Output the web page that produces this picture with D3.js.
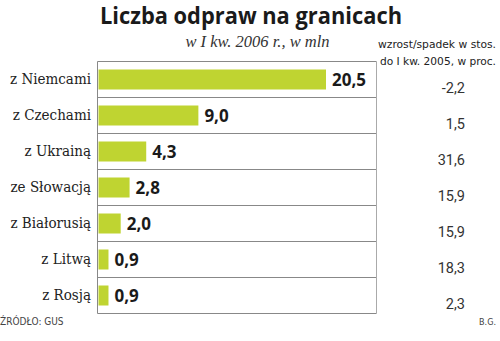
<!DOCTYPE html>
<html><head><meta charset="utf-8">
<script src="https://cdn.jsdelivr.net/npm/d3@7"></script>
<style>body{margin:0;background:#fff}svg{display:block}</style>
</head><body>
<svg id="c" width="500" height="341"></svg>
<script>
const categories = ["z Niemcami","z Czechami","z Ukrainą","ze Słowacją","z Białorusią","z Litwą","z Rosją"];
const values = [20.5, 9.0, 4.3, 2.8, 2.0, 0.9, 0.9];
const changes = ["-2,2","1,5","31,6","15,9","15,9","18,3","2,3"];
const valueLabels = ["20,5","9,0","4,3","2,8","2,0","0,9","0,9"];

(function(){
const svg = d3.select("#c");
const boxL = 97.5, boxR = 376.5, boxT = 61, boxB = 313;
const x = d3.scaleLinear().domain([0, 20.5]).range([boxL + 1, 326]);
const y = d3.scaleBand().domain(categories).range([boxT, boxB]).paddingInner(0).paddingOuter(0);

// title
svg.append("text").attr("x", 100).attr("y", 23.5)
  .attr("font-family", "Open Sans").attr("font-weight", 700).attr("font-size", 22.5)
  .attr("textLength", 302).attr("lengthAdjust", "spacingAndGlyphs")
  .attr("fill", "#1a1a1a").text("Liczba odpraw na granicach");
svg.append("text").attr("x", 257.5).attr("y", 47).attr("text-anchor", "middle")
  .attr("font-family", "Liberation Serif").attr("font-style", "italic").attr("font-size", 16.5)
  .attr("fill", "#333").text("w I kw. 2006 r., w mln");

// right header
svg.append("text").attr("x", 378).attr("y", 48)
  .attr("font-family", "DejaVu Sans Condensed").attr("font-size", 11)
  .attr("textLength", 118).attr("lengthAdjust", "spacingAndGlyphs")
  .attr("fill", "#222").text("wzrost/spadek w stos.");
svg.append("text").attr("x", 380).attr("y", 65)
  .attr("font-family", "DejaVu Sans Condensed").attr("font-size", 11)
  .attr("textLength", 116).attr("lengthAdjust", "spacingAndGlyphs")
  .attr("fill", "#222").text("do I kw. 2005, w proc.");

// box & row lines
const g = svg.append("g");
const lines = [boxT].concat(categories.map(c => y(c) + y.bandwidth()));
g.selectAll("line.row").data(lines).join("line").attr("class","row")
  .attr("x1", boxL).attr("x2", boxR).attr("y1", d => Math.round(d) + 0.5).attr("y2", d => Math.round(d) + 0.5)
  .attr("stroke", "#888").attr("stroke-width", 1);
g.append("line").attr("x1", boxL).attr("x2", boxL).attr("y1", boxT + 0.5).attr("y2", Math.round(boxB) + 0.5)
  .attr("stroke", "#888");
g.append("line").attr("x1", boxR).attr("x2", boxR).attr("y1", boxT + 0.5).attr("y2", Math.round(boxB) + 0.5)
  .attr("stroke", "#aaa");

// bars
const bh = 20;
g.selectAll("rect.bar").data(values).join("rect").attr("class","bar")
  .attr("x", x(0)).attr("width", d => x(d) - x(0))
  .attr("y", (d, i) => y(categories[i]) + y.bandwidth() / 2 - bh / 2 + 0.5)
  .attr("height", bh).attr("fill", "#bfd431");

// value labels
g.selectAll("text.val").data(values).join("text").attr("class","val")
  .attr("x", d => x(d) + 6)
  .attr("y", (d, i) => y(categories[i]) + y.bandwidth() / 2 + 6.5)
  .attr("font-family", "Open Sans").attr("font-weight", 700).attr("font-size", 17)
  .attr("fill", "#1a1a1a").text((d, i) => valueLabels[i]);

// category labels
g.selectAll("text.cat").data(categories).join("text").attr("class","cat")
  .attr("x", 91).attr("y", d => y(d) + y.bandwidth() / 2 + 5)
  .attr("text-anchor", "end").attr("font-family", "DejaVu Serif Condensed").attr("font-size", 15)
  .attr("fill", "#222").text(d => d);

// changes column
g.selectAll("text.chg").data(changes).join("text").attr("class","chg")
  .attr("x", 465).attr("y", (d, i) => y(categories[i]) + y.bandwidth() / 2 + 14)
  .attr("text-anchor", "end").attr("font-family", "Roboto").attr("font-size", 14.5)
  .attr("fill", "#333").text(d => d);

// footer
svg.append("text").attr("x", 0).attr("y", 325).attr("font-family", "DejaVu Sans Condensed")
  .attr("font-size", 10).attr("fill", "#444").text("ŹRÓDŁO: GUS");
svg.append("text").attr("x", 496).attr("y", 325).attr("text-anchor", "end").attr("font-family", "DejaVu Sans Condensed")
  .attr("font-size", 9).attr("fill", "#444").text("B.G.");
})();
</script>
</body></html>
